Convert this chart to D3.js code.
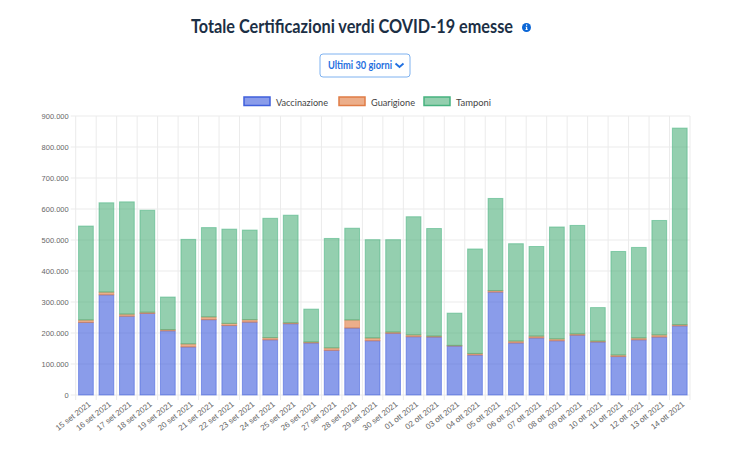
<!DOCTYPE html>
<html>
<head>
<meta charset="utf-8">
<script src="https://cdn.jsdelivr.net/npm/d3@7"></script>
<style>
  html, body { margin: 0; padding: 0; background: #fff; }
  text { font-family: "Liberation Sans", sans-serif; }
  .ui { font-family: Lato, "Noto Sans", sans-serif; }
</style>
</head>
<body>
<svg id="chart" width="733" height="450"></svg>
<script>
const categories = [
  "15 set 2021", "16 set 2021", "17 set 2021", "18 set 2021", "19 set 2021", "20 set 2021",
  "21 set 2021", "22 set 2021", "23 set 2021", "24 set 2021", "25 set 2021", "26 set 2021",
  "27 set 2021", "28 set 2021", "29 set 2021", "30 set 2021", "01 ott 2021", "02 ott 2021",
  "03 ott 2021", "04 ott 2021", "05 ott 2021", "06 ott 2021", "07 ott 2021", "08 ott 2021",
  "09 ott 2021", "10 ott 2021", "11 ott 2021", "12 ott 2021", "13 ott 2021", "14 ott 2021"
];
const vaccinazione = [234000, 323000, 254000, 263000, 207000, 155000, 243000, 224000, 235000, 178000,
  230000, 168000, 144000, 216000, 175000, 199000, 188000, 187000, 158000, 129000,
  332000, 168000, 184000, 175000, 193000, 171000, 124000, 178000, 187000, 223000];
const guarigione = [8000, 9000, 7000, 4000, 4000, 10000, 9000, 7000, 8000, 7000,
  3000, 3000, 8000, 26000, 9000, 4000, 6000, 3000, 2000, 5000,
  5000, 6000, 6000, 6000, 4000, 3000, 5000, 6000, 7000, 4000];
const tamponi = [303000, 288000, 362000, 329000, 105000, 337000, 288000, 304000, 289000, 385000,
  347000, 106000, 353000, 296000, 317000, 298000, 381000, 347000, 104000, 337000,
  297000, 314000, 289000, 361000, 350000, 108000, 334000, 292000, 369000, 634000];
const yTicks = [0, 100000, 200000, 300000, 400000, 500000, 600000, 700000, 800000, 900000];

const seriesNames = ["Vaccinazione", "Guarigione", "Tamponi"];
const seriesFill = ["rgba(60,90,220,0.6)", "rgba(224,120,60,0.6)", "rgba(60,168,110,0.55)"];
const seriesStroke = ["#3f5fdc", "#e07c46", "#46b27f"];

const svg = d3.select("#chart");
const m = { top: 116, right: 690, bottom: 395, left: 75.7 };

const x = d3.scaleBand().domain(categories).range([m.left, m.right]).paddingInner(0.28).paddingOuter(0.14);
const y = d3.scaleLinear().domain([0, 900000]).range([m.bottom, m.top]);
const itFormat = d3.formatLocale({ decimal: ",", thousands: ".", grouping: [3], currency: ["€", ""] }).format(",d");

// griglia
const step = x.step();
svg.append("g").selectAll("line").data(d3.range(categories.length + 1)).join("line")
  .attr("x1", i => m.left + i * step).attr("x2", i => m.left + i * step)
  .attr("y1", m.top).attr("y2", m.bottom + 5)
  .attr("stroke", "#ebebeb");
svg.append("g").selectAll("line").data(yTicks).join("line")
  .attr("x1", m.left - 5).attr("x2", m.right)
  .attr("y1", d => y(d)).attr("y2", d => y(d))
  .attr("stroke", "#ebebeb");

// barre impilate
const rows = categories.map((c, i) => ({ c, Vaccinazione: vaccinazione[i], Guarigione: guarigione[i], Tamponi: tamponi[i] }));
const stacked = d3.stack().keys(seriesNames)(rows);
svg.append("g").selectAll("g").data(stacked).join("g")
  .each(function (s, k) {
    d3.select(this).selectAll("rect").data(s).join("rect")
      .attr("x", d => x(d.data.c))
      .attr("width", x.bandwidth())
      .attr("y", d => y(d[1]))
      .attr("height", d => y(d[0]) - y(d[1]))
      .attr("fill", seriesFill[k])
      .attr("stroke", seriesStroke[k])
      .attr("stroke-opacity", 0.55)
      .attr("stroke-width", 1);
  });

// assi
const yAxis = svg.append("g").attr("transform", `translate(${m.left},0)`).attr("opacity", 0.99)
  .call(d3.axisLeft(y).tickValues(yTicks).tickFormat(itFormat).tickSize(0).tickPadding(7));
yAxis.select(".domain").remove();
yAxis.selectAll("text").attr("font-size", 7.5).attr("fill", "#666");

const xAxis = svg.append("g").attr("transform", `translate(0,${m.bottom})`).attr("opacity", 0.99)
  .call(d3.axisBottom(x).tickSize(0));
xAxis.select(".domain").remove();
xAxis.selectAll("text")
  .attr("font-size", 8).attr("fill", "#666")
  .attr("text-anchor", "end")
  .attr("x", 0).attr("y", 0).attr("dy", "0.35em")
  .attr("transform", "translate(3.5,8) rotate(-38)");

// titolo, info, bottone
svg.append("text").attr("class", "ui").attr("x", 191).attr("y", 33)
  .attr("font-size", 18.5).attr("font-weight", 700)
  .attr("textLength", 322).attr("lengthAdjust", "spacingAndGlyphs")
  .attr("fill", "#1c2f45").text("Totale Certificazioni verdi COVID-19 emesse");
svg.append("circle").attr("cx", 526.5).attr("cy", 27.5).attr("r", 4.5).attr("fill", "#0b66d6");
svg.append("path").attr("d", "M526 24.5h1.2v1.3H526z M525.6 26.7h1.6v2.6h.6v.8h-2.4v-.8h.6v-1.8h-.4z").attr("fill", "#fff");

svg.append("rect").attr("x", 320).attr("y", 54).attr("width", 90).attr("height", 23).attr("rx", 3)
  .attr("fill", "#fff").attr("stroke", "#7fb2f0");
svg.append("text").attr("class", "ui").attr("x", 328).attr("y", 69)
  .attr("font-size", 10.5).attr("font-weight", 700).attr("fill", "#1f6fe0")
  .attr("textLength", 64).attr("lengthAdjust", "spacingAndGlyphs").text("Ultimi 30 giorni");
svg.append("path").attr("d", "M395.5 63.5 L399.5 67 L403.5 63.5").attr("fill", "none")
  .attr("stroke", "#1f6fe0").attr("stroke-width", 1.8);

// legenda
const legendX = [244, 339, 424];
const legendWidth = [52, 44, 35];
const legend = svg.append("g").selectAll("g").data(seriesNames).join("g")
  .attr("transform", (d, i) => `translate(${legendX[i]},97)`);
legend.append("rect").attr("width", 26).attr("height", 8.5)
  .attr("fill", (d, i) => seriesFill[i]).attr("stroke", (d, i) => seriesStroke[i]).attr("stroke-width", 1.5);
legend.append("text").attr("class", "ui").attr("x", 32).attr("y", 8.5)
  .attr("font-size", 10).attr("fill", "#444")
  .attr("textLength", (d, i) => legendWidth[i]).attr("lengthAdjust", "spacingAndGlyphs").text(d => d);
</script>
</body>
</html>
